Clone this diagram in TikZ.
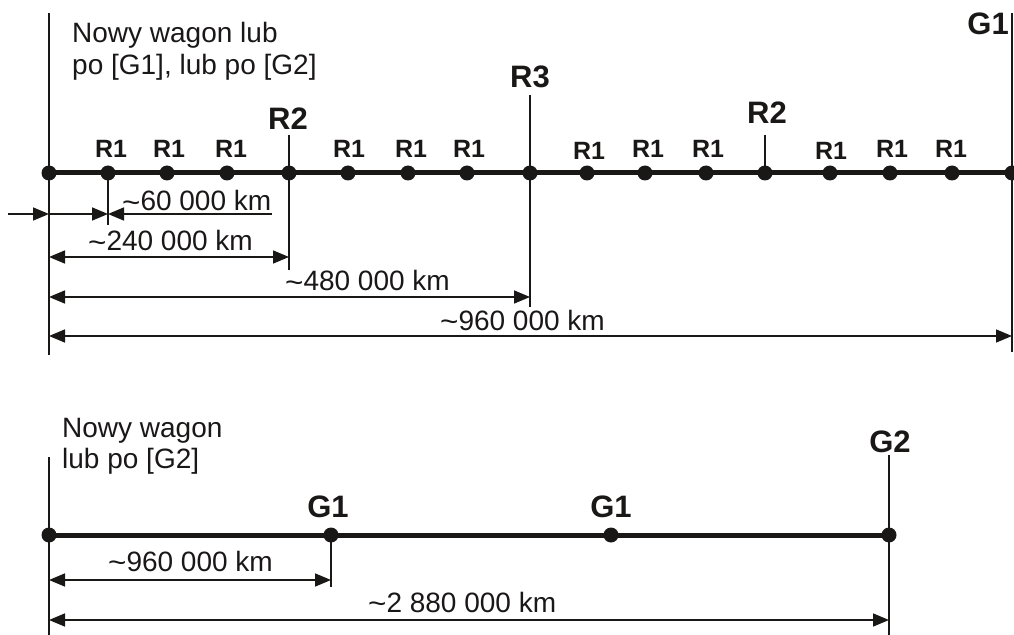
\documentclass[tikz,border=0pt]{standalone}
\usepackage{fontspec}
\usepackage{graphicx}
\setmainfont{Liberation Sans}
\usetikzlibrary{arrows.meta}
\definecolor{ink}{RGB}{26,23,23}
% approximate sign, set at digit mid-height
\newcommand\approxkm{\raisebox{-0.07em}{\scalebox{1.12}[1.05]{\textasciitilde}}}
\tikzset{
  track/.style={line width=5bp, draw=ink},
  guide/.style={line width=1.8bp, draw=ink},
  tip/.tip={Triangle[length=16bp,width=13bp]},
  dimone/.style={line width=1.6bp, draw=ink, -tip},
  dimtwo/.style={line width=1.6bp, draw=ink, tip-tip},
  stop/.style={circle, fill=ink, inner sep=0pt, minimum size=15bp},
  txt/.style={inner sep=0pt, anchor=base west, text=ink, font=\fontsize{28bp}{32bp}\selectfont},
  rone/.style={inner sep=0pt, anchor=base, text=ink, font=\bfseries\fontsize{25bp}{28bp}\selectfont},
  rbig/.style={inner sep=0pt, anchor=base, text=ink, font=\bfseries\fontsize{31bp}{34bp}\selectfont}
}
\begin{document}
\begin{tikzpicture}[x=1bp, y=-1bp]
\useasboundingbox (0,0) rectangle (1014,635);

% ---------- upper schedule: stops along the track ----------
\foreach \n/\x in {0/49,1/108,2/167,3/227,4/289,5/348,6/408,7/467,8/530,
                   9/587,10/645,11/706,12/765,13/830,14/890,15/952,16/1012}
  \coordinate (t\n) at (\x,173);
\coordinate (tend) at (1020,173);

% vertical reference lines and ticks
\coordinate (ltop) at (49,13);   \coordinate (lbot) at (49,355);
\coordinate (rtop) at (1012,13); \coordinate (rbot) at (1012,352);
\coordinate (r1d)  at (108,225);
\coordinate (r2u)  at (289,135); \coordinate (r2d) at (289,270);
\coordinate (r3u)  at (530,95);  \coordinate (r3d) at (530,307);
\coordinate (r2bu) at (765,135);

\draw[guide] (ltop) -- (lbot);
\draw[guide] (rtop) -- (rbot);
\draw[guide] (t1) -- (r1d);
\draw[guide] (r2u) -- (r2d);
\draw[guide] (r3u) -- (r3d);
\draw[guide] (r2bu) -- (t12);

\draw[track] (t0) -- (tend);
\foreach \n in {0,...,16} \node[stop] (s\n) at (t\n) {};

% dimension lines
\coordinate (a0) at (8,214);   \coordinate (a1) at (49,214);
\coordinate (a2) at (108,214); \coordinate (a3) at (272,214);
\draw[dimone] (a0) -- (a1);
\draw[dimone] (a1) -- (a2);
\draw[dimone] (a3) -- (a2);

\coordinate (b1) at (49,257);  \coordinate (b2) at (289,257);
\draw[dimtwo] (b1) -- (b2);
\coordinate (c1) at (49,297);  \coordinate (c2) at (530,297);
\draw[dimtwo] (c1) -- (c2);
\coordinate (d1) at (49,336);  \coordinate (d2) at (1012,336);
\draw[dimtwo] (d1) -- (d2);

\node[txt] (l60)  at (122,211) {\approxkm60 000 km};
\node[txt] (l240) at (88,251)  {\approxkm240 000 km};
\node[txt] (l480) at (285,291) {\approxkm480 000 km};
\node[txt] (l960) at (440,330) {\approxkm960 000 km};

% stop labels
\foreach \x/\y [count=\i] in {111/158,169/158,231/158,349/158,411/158,469/158,
                              589/160,648/158,708/158,831/160,892/158,951/158}
  \node[rone] (rl\i) at (\x,\y) {R1};
\node[rbig] (R2a) at (288,130) {R2};
\node[rbig] (R2b) at (767,124) {R2};
\node[rbig] (R3)  at (530,88)  {R3};
\node[rbig, anchor=base east] (G1top) at (1009,35) {G1};

\node[txt] (top1) at (72,43) {Nowy wagon lub};
\node[txt] (top2) at (72,75) {po [G1], lub po [G2]};

% ---------- lower schedule ----------
\coordinate (g0) at (49,535);  \coordinate (g1) at (331,535);
\coordinate (g2) at (611,535); \coordinate (g3) at (889,535);
\coordinate (glt) at (49,457); \coordinate (glb) at (49,640);
\coordinate (g3t) at (889,455); \coordinate (g3b) at (889,640);
\coordinate (g1d) at (331,587);

\draw[guide] (glt) -- (glb);
\draw[guide] (g3t) -- (g3b);
\draw[guide] (g1) -- (g1d);
\draw[track] (g0) -- (g3);
\foreach \n in {0,...,3} \node[stop] (h\n) at (g\n) {};

\coordinate (e1) at (49,580);  \coordinate (e2) at (331,580);
\draw[dimtwo] (e1) -- (e2);
\coordinate (f1) at (49,620);  \coordinate (f2) at (889,620);
\draw[dimtwo] (f1) -- (f2);

\node[txt] (m960)  at (108,571) {\approxkm960 000 km};
\node[txt] (m2880) at (368,612) {\approxkm2 880 000 km};

\node[rbig] (G1a) at (328,517) {G1};
\node[rbig] (G1b) at (611,517) {G1};
\node[rbig] (G2)  at (890,452) {G2};

\node[txt] (bot1) at (62,437) {Nowy wagon};
\node[txt] (bot2) at (62,468) {lub po [G2]};
\end{tikzpicture}
\end{document}
